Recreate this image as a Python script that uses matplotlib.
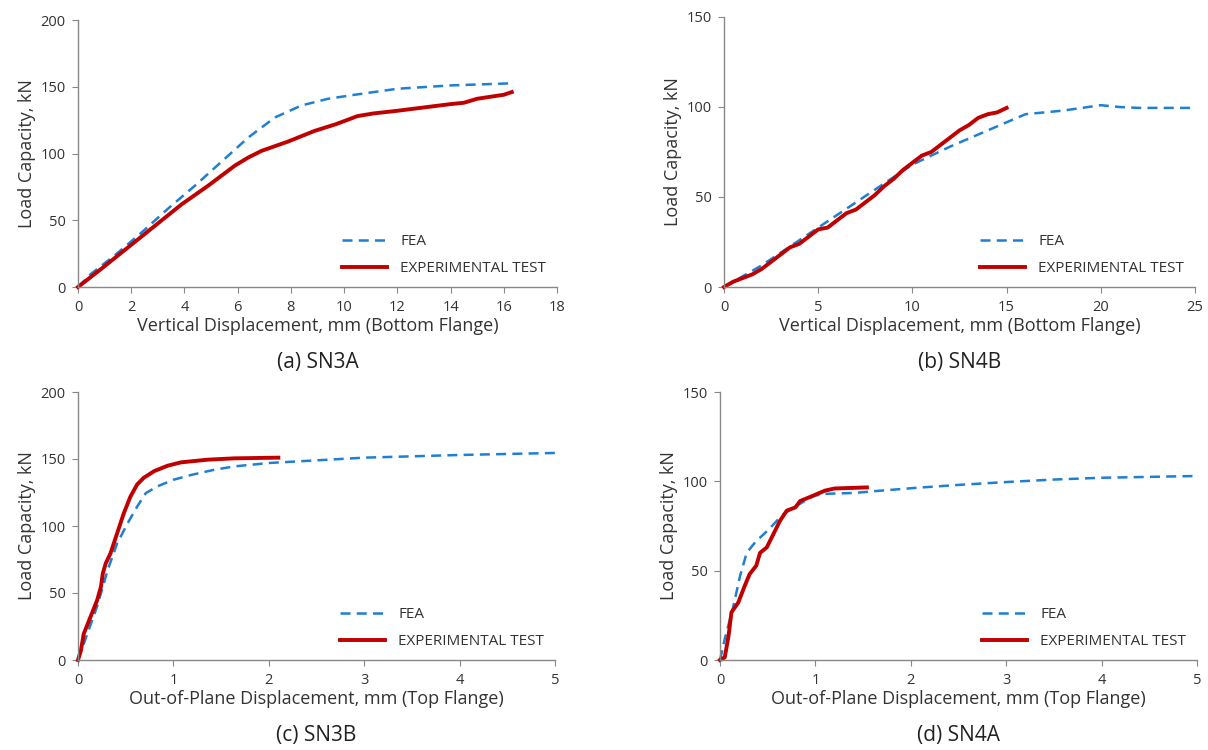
import matplotlib
matplotlib.use('agg')
from matplotlib import pyplot as plt

plt.rcParams['font.family'] = ['Open Sans', 'DejaVu Sans']

# (a) SN3A - vertical displacement, bottom flange
a_fea_x = [0, 0.5, 1.4, 2.4, 3.4, 4.4, 5.4, 6.4, 7.4, 8.4, 9.4, 10.4, 12, 14, 16.2]
a_fea_y = [0, 10, 24, 41, 59, 76, 94, 112, 127, 136, 141, 144, 148.5, 151, 152.5]
a_exp_x = [0, 0.9, 1.9, 2.9, 3.9, 4.9, 5.9, 6.4, 6.9, 7.9, 8.9, 9.7, 10.5, 11.1, 12, 13,
           14, 14.5, 15, 16, 16.3]
a_exp_y = [0, 14, 30, 46, 62, 76, 91, 97, 102, 109, 117, 122, 128, 130, 132, 134.5,
           137, 138, 141, 144, 146]

# (b) SN4B
b_fea_x = [0, 2, 4, 6, 8, 10, 12, 14, 16, 18, 20, 21, 22, 25]
b_fea_y = [0, 12, 26, 40, 54, 68, 78, 87, 96, 98, 101, 100, 99.5, 99.5]
b_exp_x = [0, 0.5, 1, 1.5, 2, 2.5, 3, 3.5, 4, 4.5, 5, 5.5, 6, 6.5, 7, 7.5, 8, 8.5, 9,
           9.5, 10, 10.5, 11, 11.5, 12, 12.5, 13, 13.5, 14, 14.5, 15]
b_exp_y = [0, 3, 5, 7, 10, 14, 18, 22, 24, 28, 32, 33, 37, 41, 43, 47, 51, 56, 60,
           65, 69, 73, 75, 79, 83, 87, 90, 94, 96, 97, 99.5]

# (c) SN3B - out-of-plane displacement, top flange
c_fea_x = [0, 0.1, 0.2, 0.26, 0.31, 0.41, 0.52, 0.62, 0.71, 0.83, 1.0, 1.18, 1.43,
           1.64, 2, 3, 4, 5]
c_fea_y = [0, 20, 40, 54.5, 67, 87, 102, 114.5, 124.5, 129.5, 134.5, 138, 142,
           144.5, 147, 151, 153, 154.5]
c_exp_x = [0, 0.03, 0.06, 0.13, 0.2, 0.24, 0.26, 0.29, 0.34, 0.41, 0.48, 0.55, 0.62,
           0.69, 0.8, 0.94, 1.08, 1.36, 1.64, 2.1]
c_exp_y = [0, 7, 19.5, 32, 44.5, 54.5, 64.5, 72, 79.5, 94.5, 109.5, 122, 131, 136,
           141, 145, 147.5, 149.5, 150.5, 151]

# (d) SN4A
d_fea_x = [0, 0.05, 0.14, 0.21, 0.28, 0.37, 0.51, 0.65, 0.79, 0.99, 1.1, 1.41, 1.62,
           2.04, 2.5, 3, 3.5, 4, 4.5, 5]
d_fea_y = [0, 11.8, 30, 47, 60, 66, 73, 81, 86, 92, 93, 93.5, 94.5, 96.3, 98, 99.6,
           101, 102, 102.5, 103]
d_exp_x = [0, 0.05, 0.09, 0.12, 0.19, 0.26, 0.31, 0.38, 0.42, 0.49, 0.56, 0.63, 0.7,
           0.79, 0.84, 0.96, 1.1, 1.2, 1.54]
d_exp_y = [0, 1.5, 13.6, 26.7, 32, 41.6, 48, 52.8, 60, 63, 70.5, 78, 83.6, 85.4, 89,
           91.6, 94.8, 96, 96.6]

panels = [
    # rect in pixels: left, right, top, bottom
    dict(rect=(78, 557, 20, 287), fea=(a_fea_x, a_fea_y), exp=(a_exp_x, a_exp_y),
         xlim=(0, 18), xticks=range(0, 19, 2), ylim=(0, 200), yticks=range(0, 201, 50),
         xlabel='Vertical Displacement, mm (Bottom Flange)', cap='(a) SN3A'),
    dict(rect=(724, 1195, 17, 287), fea=(b_fea_x, b_fea_y), exp=(b_exp_x, b_exp_y),
         xlim=(0, 25), xticks=range(0, 26, 5), ylim=(0, 150), yticks=range(0, 151, 50),
         xlabel='Vertical Displacement, mm (Bottom Flange)', cap='(b) SN4B'),
    dict(rect=(78, 555, 392, 660), fea=(c_fea_x, c_fea_y), exp=(c_exp_x, c_exp_y),
         xlim=(0, 5), xticks=range(0, 6), ylim=(0, 200), yticks=range(0, 201, 50),
         xlabel='Out-of-Plane Displacement, mm (Top Flange)', cap='(c) SN3B'),
    dict(rect=(720, 1197, 392, 660), fea=(d_fea_x, d_fea_y), exp=(d_exp_x, d_exp_y),
         xlim=(0, 5), xticks=range(0, 6), ylim=(0, 150), yticks=range(0, 151, 50),
         xlabel='Out-of-Plane Displacement, mm (Top Flange)', cap='(d) SN4A'),
]

W, H = 1208, 750
fig = plt.figure(figsize=(W / 100, H / 100), dpi=100)

for p in panels:
    l, r, t, b = p['rect']
    ax = fig.add_axes([l / W, 1 - b / H, (r - l) / W, (b - t) / H])
    ax.plot(*p['fea'], '--', color='#1f7fd0', lw=1.8, dashes=(4, 2.5), label='FEA',
            clip_on=False)
    ax.plot(*p['exp'], '-', color='#c00000', lw=2.8, label='EXPERIMENTAL TEST',
            clip_on=False)
    ax.set_xlim(*p['xlim'])
    ax.set_ylim(*p['ylim'])
    ax.set_xticks(list(p['xticks']))
    ax.set_yticks(list(p['yticks']))
    for s in ('top', 'right'):
        ax.spines[s].set_visible(False)
    for s in ('left', 'bottom'):
        ax.spines[s].set_color('#888888')
        ax.spines[s].set_linewidth(1.0)
    ax.tick_params(colors='#888888', labelcolor='#333333', labelsize=10.5, length=4,
                   pad=5)
    ax.set_xlabel(p['xlabel'], fontsize=13, color='#333333', labelpad=2)
    ax.set_ylabel('Load Capacity, kN', fontsize=13, color='#333333', labelpad=3)
    ax.legend(loc='lower right', bbox_to_anchor=(1.0, 0.0), frameon=False,
              fontsize=11, labelcolor='#333333', handlelength=2.9,
              handletextpad=0.9, labelspacing=0.8, borderaxespad=0.3)
    ax.text(0.5, -75 / (b - t), p['cap'], transform=ax.transAxes, ha='center',
            va='center', fontsize=15, color='#222222')

fig.savefig('out.png', dpi=100)
